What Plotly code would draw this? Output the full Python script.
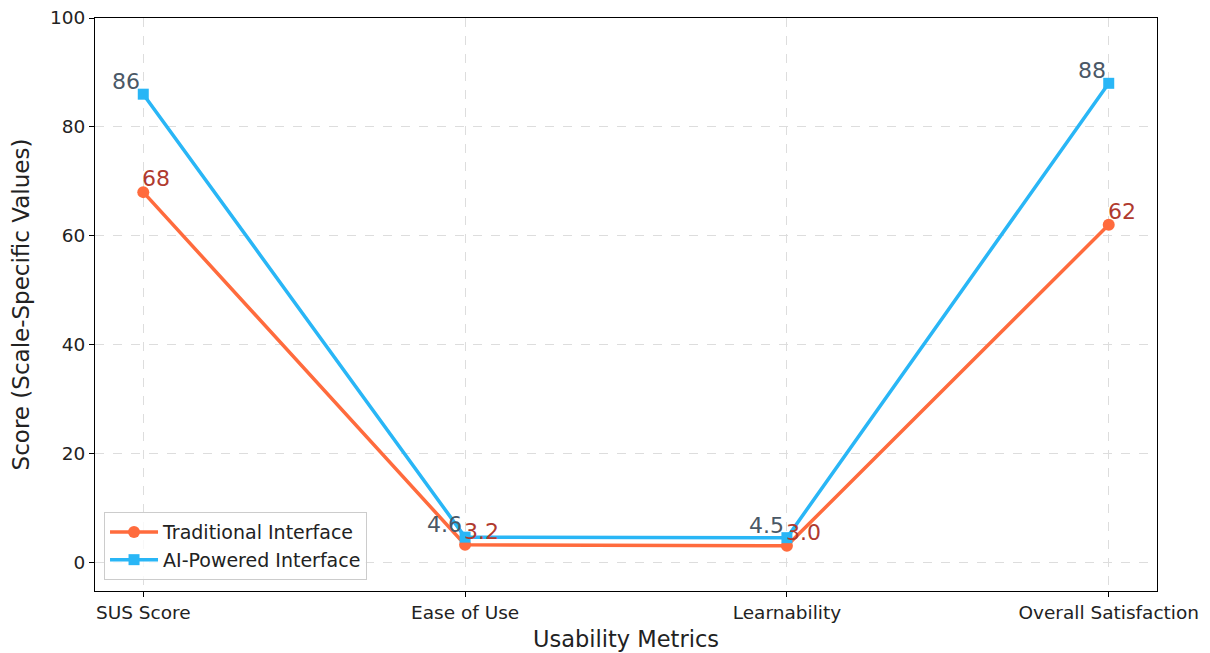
import plotly.graph_objects as go

categories = ["SUS Score", "Ease of Use", "Learnability", "Overall Satisfaction"]
traditional = [68, 3.2, 3.0, 62]
ai_powered = [86, 4.6, 4.5, 88]
trad_labels = ["68", "3.2", "3.0", "62"]
ai_labels = ["86", "4.6", "4.5", "88"]
y_ticks = [0, 20, 40, 60, 80, 100]

ORANGE = "#FF6B3D"
BLUE = "#29B6F6"
RED_TXT = "#B03A2E"
GREY_TXT = "#4A5866"
FONT = "DejaVu Sans"
TXT = "#222222"

fig = go.Figure()
fig.add_trace(go.Scatter(
    x=categories, y=traditional, name="Traditional Interface",
    mode="lines+markers",
    line=dict(color=ORANGE, width=3.5),
    marker=dict(symbol="circle", size=12, color=ORANGE),
))
fig.add_trace(go.Scatter(
    x=categories, y=ai_powered, name="AI-Powered Interface",
    mode="lines+markers",
    line=dict(color=BLUE, width=3.5),
    marker=dict(symbol="square", size=11, color=BLUE),
))

for c, v, t in zip(categories, ai_powered, ai_labels):
    fig.add_annotation(x=c, y=v, text=t, showarrow=False,
                       xanchor="right", yanchor="bottom", xshift=-1, yshift=-2,
                       font=dict(family=FONT, size=22, color=GREY_TXT))
for c, v, t in zip(categories, traditional, trad_labels):
    fig.add_annotation(x=c, y=v, text=t, showarrow=False,
                       xanchor="left", yanchor="bottom", xshift=-3, yshift=-1,
                       font=dict(family=FONT, size=22, color=RED_TXT))

fig.update_layout(
    width=1210, height=653,
    margin=dict(l=87, r=61, t=10, b=70),
    paper_bgcolor="white", plot_bgcolor="white",
    font=dict(family=FONT, size=18.5, color=TXT),
    showlegend=True,
    legend=dict(x=0.0085, y=0.019, xanchor="left", yanchor="bottom",
                itemwidth=48,
                bgcolor="rgba(255,255,255,0.8)", bordercolor="#cccccc", borderwidth=1,
                font=dict(family=FONT, size=19, color=TXT)),
)
fig.update_xaxes(
    type="category", range=[-0.15, 3.15], automargin=False,
    showline=True, linecolor="black", linewidth=1, mirror=True,
    ticks="outside", ticklen=5, tickcolor="black",
    showgrid=True, gridcolor="#dddddd", griddash="dash", gridwidth=1,
    tickfont=dict(family=FONT, size=18.5, color=TXT),
    title=dict(text="Usability Metrics", font=dict(family=FONT, size=22.5, color=TXT), standoff=9),
)
fig.update_yaxes(
    range=[-5.3, 100], tickvals=y_ticks, automargin=False,
    ticklabeloverflow="allow",
    showline=True, linecolor="black", linewidth=1, mirror=True,
    ticks="outside", ticklen=5, tickcolor="black",
    showgrid=True, gridcolor="#dddddd", griddash="dash", gridwidth=1,
    zeroline=False,
    tickfont=dict(family=FONT, size=18.5, color=TXT),
    title=dict(text="Score (Scale-Specific Values)", font=dict(family=FONT, size=23, color=TXT), standoff=22),
)

fig.write_html("out.html")
